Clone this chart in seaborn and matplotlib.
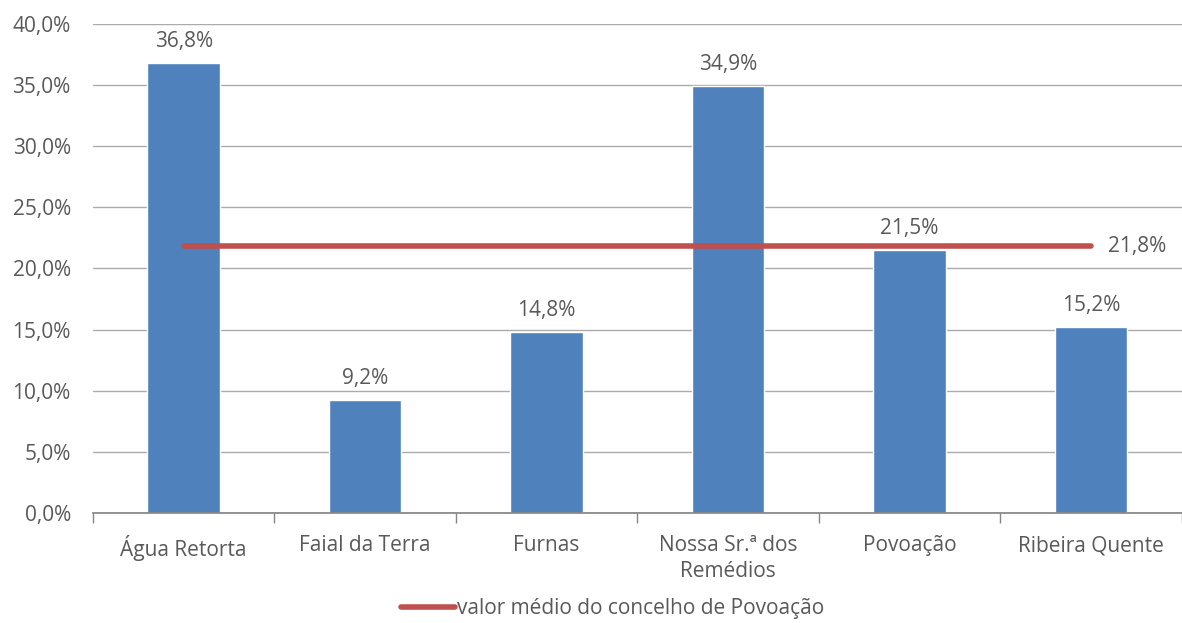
import numpy as np
import pandas as pd
import matplotlib
matplotlib.use("Agg")
from matplotlib import pyplot as plt
import seaborn as sns

# Chart data
freguesias = ["Água Retorta", "Faial da Terra", "Furnas", "Nossa Sr.ª dos\nRemédios", "Povoação", "Ribeira Quente"]
percentagens = [36.8, 9.2, 14.8, 34.9, 21.5, 15.2]
valor_medio = 21.8
legenda_medio = "valor médio do concelho de Povoação"
yticks = [0, 5, 10, 15, 20, 25, 30, 35, 40]

sns.set_theme(style="white")
plt.rcParams['font.family'] = ['Open Sans', 'DejaVu Sans']
texto = '#595959'
fs = 15

df = pd.DataFrame({"freguesia": freguesias, "pct": percentagens})
media = pd.DataFrame({"freguesia": freguesias, "pct": [valor_medio] * len(freguesias)})

fig = plt.figure(figsize=(11.82, 6.23), dpi=100)
ax = fig.add_axes([0.0787, 0.1766, 0.921, 0.785])

sns.barplot(data=df, x="freguesia", y="pct", color="#4F81BD", saturation=1, width=0.4, ax=ax, zorder=2)
sns.lineplot(data=media, x="freguesia", y="pct", color="#C0504D", linewidth=4,
             solid_capstyle="round", ax=ax, zorder=3, label=legenda_medio)

# etiquetas das barras
for cont in ax.containers:
    ax.bar_label(cont, labels=[f"{v:.1f}".replace('.', ',') + '%' for v in percentagens],
                 padding=8, fontsize=fs, color=texto)

ax.text(len(freguesias) - 1 + 0.094, valor_medio, f"{valor_medio:.1f}".replace('.', ',') + '%',
        ha='left', va='center', fontsize=fs, color=texto)

ax.set_ylim(0, 40)
ax.set_xlim(-0.5, len(freguesias) - 0.5)
ax.set_yticks(yticks)
ax.set_yticklabels([f"{v:.1f}".replace('.', ',') + '%' for v in yticks], fontsize=fs, color=texto)
ax.tick_params(axis='y', length=0, pad=16)
ax.tick_params(axis='x', which='major', length=0, pad=16, labelsize=fs, labelcolor=texto)
for lbl in ax.get_xticklabels():
    lbl.set_linespacing(1.3)
ax.set_xticks(np.arange(-0.5, len(freguesias), 1.0), minor=True)
ax.tick_params(axis='x', which='minor', bottom=True, length=7, width=1, color='#868686', direction='out')
ax.grid(axis='y', color='#ABABAB', linewidth=1, zorder=0)
ax.set_axisbelow(True)
ax.set_xlabel("")
ax.set_ylabel("")
for s in ["left", "right", "top"]:
    ax.spines[s].set_visible(False)
ax.spines["bottom"].set_color('#868686')

leg = ax.legend(loc='center', bbox_to_anchor=(0.4775, -0.196), frameon=False, fontsize=fs,
                handlelength=2.6, handletextpad=0.1)
for t in leg.get_texts():
    t.set_color(texto)

fig.savefig("out.png", dpi=100)
